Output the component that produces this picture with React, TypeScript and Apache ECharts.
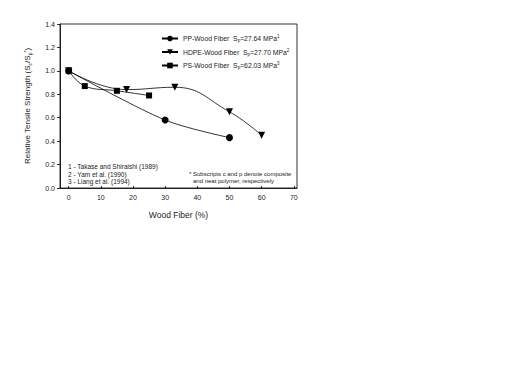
import React, { useEffect, useRef } from "react";
import * as echarts from "echarts";

const ppX = [0, 30, 50];
const ppY = [1.0, 0.58, 0.43];
const hdpeX = [0, 18, 33, 50, 60];
const hdpeY = [1.0, 0.84, 0.86, 0.65, 0.45];
const psX = [0, 5, 15, 25];
const psY = [1.0, 0.87, 0.83, 0.79];
const xTicks = [0, 10, 20, 30, 40, 50, 60, 70];
const seriesNames = ["PP-Wood Fiber", "HDPE-Wood Fiber", "PS-Wood Fiber"];
const strengths = ["27.64", "27.70", "62.03"];
const refs = ["1", "2", "3"];
const refNotes = ["1 - Takase and Shiraishi (1989)", "2 - Yam et al. (1990)", "3 - Liang et al. (1994)"];
const footNotes = ["* Subscripts c and p denote composite", "and neat polymer, respectively"];

const FONT = "Liberation Sans, Arial, sans-serif";

export default function App() {
  const ref = useRef<HTMLDivElement>(null);
  useEffect(() => {
    const chart = echarts.init(ref.current!, undefined, { renderer: "svg" });
    const pair = (xs: number[], ys: number[]) => xs.map((x, i) => [x, ys[i]]);
    const lineStyle = { color: "#000", width: 0.8 };
    const mk = (name: string, data: number[][], symbol: string, size: number, smooth: number, rot = 0) => ({
      type: "line",
      name,
      data,
      smooth,
      symbol,
      symbolSize: size,
      symbolRotate: rot,
      showSymbol: true,
      itemStyle: { color: "#000" },
      lineStyle,
    });
    const legendMap: Record<string, string> = {};
    seriesNames.forEach((n, i) => {
      legendMap[n] = `{a|${n}  S}{sub|p}{a|=${strengths[i]} MPa}{sup|${refs[i]}}`;
    });
    chart.setOption({
      animation: false,
      backgroundColor: "#fff",
      textStyle: { fontFamily: FONT },
      grid: { left: 60, right: 215, top: 24, bottom: 196 },
      xAxis: {
        type: "value",
        min: -2.7,
        max: 71,
        name: "Wood Fiber (%)",
        nameLocation: "middle",
        nameGap: 22,
        nameTextStyle: { fontSize: 8.5, color: "#222", fontFamily: FONT },
        axisLine: { show: true, onZero: false, lineStyle: { color: "#000", width: 0.8 } },
        axisTick: { show: true, length: 2, inside: true, customValues: xTicks, lineStyle: { color: "#000", width: 0.8 } },
        axisLabel: { customValues: xTicks, fontSize: 7, color: "#222", margin: 6, fontFamily: FONT },
        splitLine: { show: false },
      },
      yAxis: {
        type: "value",
        min: 0,
        max: 1.4,
        interval: 0.2,
        name: "{a|Relative Tensile Strength (S}{sub|c}{a|/S}{sub|p}{sup|*}{a|)}",
        nameLocation: "middle",
        nameGap: 28,
        nameTextStyle: {
          fontSize: 8,
          color: "#222",
          fontFamily: FONT,
          rich: {
            a: { fontSize: 8, color: "#222", fontFamily: FONT },
            sub: { fontSize: 5, color: "#222", fontFamily: FONT, verticalAlign: "bottom", padding: [4, 0, 0, 0] },
            sup: { fontSize: 5, color: "#222", fontFamily: FONT, verticalAlign: "top", padding: [0, 0, 4, 0] },
          },
        },
        axisLine: { show: true, onZero: false, lineStyle: { color: "#000", width: 0.8 } },
        axisTick: { show: true, length: 3, lineStyle: { color: "#000", width: 0.8 } },
        axisLabel: { fontSize: 7, color: "#222", margin: 5, fontFamily: FONT, formatter: (v: number) => v.toFixed(1) },
        splitLine: { show: false },
      },
      legend: {
        show: true,
        orient: "vertical",
        left: 161,
        top: 34,
        padding: 0,
        itemWidth: 16,
        itemHeight: 7,
        itemGap: 4.5,
        data: seriesNames,
        formatter: (n: string) => legendMap[n],
        textStyle: {
          fontSize: 6.8,
          color: "#222",
          fontFamily: FONT,
          rich: {
            a: { fontSize: 6.8, color: "#222", fontFamily: FONT },
            sub: { fontSize: 4.5, color: "#222", fontFamily: FONT, verticalAlign: "bottom", padding: [4, 0, 0, 0] },
            sup: { fontSize: 4.5, color: "#222", fontFamily: FONT, verticalAlign: "top", padding: [0, 0, 4, 0] },
          },
        },
      },
      series: [
        mk(seriesNames[0], pair(ppX, ppY), "circle", 7, 0.3),
        mk(seriesNames[1], pair(hdpeX, hdpeY), "triangle", 7, 0.45, 180),
        mk(seriesNames[2], pair(psX, psY), "rect", 6, 0.4),
      ],
      graphic: [
        { type: "rect", shape: { x: 60, y: 24, width: 237, height: 164 }, style: { fill: "none", stroke: "#000", lineWidth: 0.8 }, silent: true, z: 0 },
        ...refNotes.map((t, i) => ({
          type: "text",
          left: 68,
          top: 163 + i * 7.6,
          style: { text: t, fontSize: 6.5, fill: "#222", fontFamily: FONT },
        })),
        ...footNotes.map((t, i) => ({
          type: "text",
          left: i === 0 ? 189 : 193,
          top: 171 + i * 7,
          style: { text: t, fontSize: 6, fill: "#222", fontFamily: FONT },
        })),
      ],
    });
    return () => chart.dispose();
  }, []);
  return <div ref={ref} style={{ position: "absolute", left: 0, top: 0, width: 512, height: 384 }} />;
}
